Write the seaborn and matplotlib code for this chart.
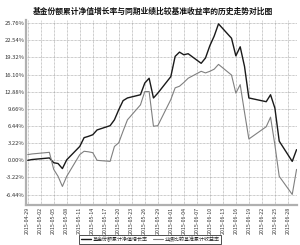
import matplotlib
matplotlib.use("Agg")
import matplotlib.pyplot as plt
import seaborn as sns
import pandas as pd

dates = ["2015-04-29", "2015-04-30", "2015-05-04", "2015-05-05", "2015-05-06", "2015-05-07",
         "2015-05-08", "2015-05-11", "2015-05-12", "2015-05-13", "2015-05-14", "2015-05-15",
         "2015-05-18", "2015-05-19", "2015-05-20", "2015-05-21", "2015-05-22", "2015-05-25",
         "2015-05-26", "2015-05-27", "2015-05-28", "2015-05-29", "2015-06-01", "2015-06-02",
         "2015-06-03", "2015-06-04", "2015-06-05", "2015-06-08", "2015-06-09", "2015-06-10",
         "2015-06-11", "2015-06-12", "2015-06-15", "2015-06-16", "2015-06-17", "2015-06-18",
         "2015-06-19", "2015-06-23", "2015-06-24", "2015-06-25", "2015-06-26", "2015-06-29",
         "2015-06-30"]
fund = [0.00, 0.15, 0.45, -0.45, -0.6, -1.55, 0.1, 2.6, 4.25, 4.5, 4.8, 5.7,
        6.5, 7.6, 9.5, 11.2, 11.7, 12.3, 14.5, 15.4, 11.7, 12.6, 15.7, 19.5,
        20.3, 19.8, 20.0, 18.2, 19.2, 21.5, 23.3, 25.6, 22.9, 19.6, 21.3, 17.6,
        11.7, 11.0, 12.3, 9.8, 3.6, -0.2, 2.0]
bench = [1.07, 1.2, 1.5, -1.7, -3.0, -4.9, -3.0, 1.07, 1.7, 1.6, 1.44, 0.0,
         -0.2, 2.6, 3.3, 5.5, 7.6, 10.4, 12.9, 12.9, 6.4, 6.5, 11.4, 13.6,
         13.9, 14.6, 15.4, 16.7, 16.4, 16.7, 17.1, 18.0, 16.0, 12.6, 14.2, 9.0,
         4.0, 6.3, 8.1, 2.9, -3.0, -6.4, -1.7]
yticks = [-6.44, -3.22, 0.00, 3.22, 6.44, 9.66, 12.88, 16.10, 19.32, 22.54, 25.76]
series_names = ["基金份额累计净值增长率", "业绩比较基准累计收益率"]
title = "基金份额累计净值增长率与同期业绩比较基准收益率的历史走势对比图"

sns.set_style("white")
plt.rcParams['font.family'] = ['Noto Sans CJK SC', 'DejaVu Sans']

df = pd.DataFrame({"date": pd.to_datetime(dates), series_names[0]: fund, series_names[1]: bench})
long = df.melt(id_vars="date", var_name="series", value_name="value")

fig = plt.figure(figsize=(3.0, 2.45), dpi=100)
ax = fig.add_axes([0.088, 0.165, 0.902, 0.755])

sns.lineplot(data=long, x="date", y="value", hue="series", ax=ax,
             palette={series_names[0]: "#1a1a1a", series_names[1]: "#808080"},
             linewidth=0.9, legend=False)
for ln, lw in zip(ax.get_lines(), [1.0, 0.8]):
    ln.set_linewidth(lw)

start = pd.Timestamp("2015-04-29")
xt = [start + pd.Timedelta(days=3 * i) for i in range(21)]
ax.set_xticks(xt)
ax.set_xticklabels([d.strftime("%Y-%m-%d") for d in xt], rotation=90, fontsize=3.8, color="#333333")
ax.set_xlim(start - pd.Timedelta(days=0.3), pd.Timestamp("2015-06-30") + pd.Timedelta(days=0.1))
ax.set_yticks(yticks)
ax.set_yticklabels([f"{v:.2f}%" for v in yticks], fontsize=4.2, color="#333333")
ax.set_ylim(-8.3, 26.4)
ax.set_xlabel("")
ax.set_ylabel("")
ax.tick_params(axis="both", length=0, pad=1.5)
ax.grid(True, color="#999999", linestyle=(0, (1, 1)), linewidth=0.5)
for s in ["top", "right"]:
    ax.spines[s].set_visible(False)
for s in ["left", "bottom"]:
    ax.spines[s].set_color("#b0b0b0")
    ax.spines[s].set_linewidth(1.6)

fig.text(0.51, 0.955, title, ha="center", va="center", fontsize=5.6, fontweight="bold", color="#111111")

handles = [plt.Line2D([], [], color="#1a1a1a", lw=1.0), plt.Line2D([], [], color="#808080", lw=0.8)]
leg = fig.legend(handles, series_names, loc="lower center", bbox_to_anchor=(0.5, -0.005), ncol=2,
                 fontsize=3.6, frameon=True, fancybox=False, handlelength=2.0, columnspacing=1.0,
                 handletextpad=0.4, borderpad=0.3)
leg.get_frame().set_edgecolor("#000000")
leg.get_frame().set_linewidth(0.6)

fig.savefig("out.png", dpi=100)
